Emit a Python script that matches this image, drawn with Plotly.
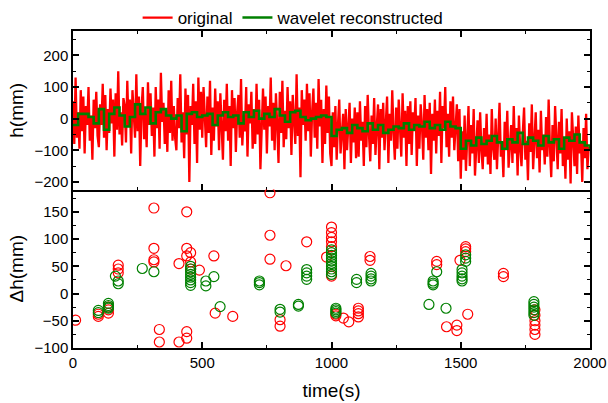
import plotly.graph_objects as go
from plotly.subplots import make_subplots

# ---- top panel: original signal (sampled every 5 s) ----
t_orig_step = 5
h_original = [
 55,-80,130,-60,20,-95,90,-40,70,-110,40,-20,100,-70,10,-130,60,-30,85,-55,
 -90,45,-20,110,-60,75,-100,30,-45,95,-15,60,-120,80,-35,150,-50,20,-85,65,
 40,-75,120,-25,60,-110,90,-5,-60,140,-40,70,-150,30,100,-65,15,-90,115,-20,
 80,-55,35,-120,100,-30,60,-95,145,-10,50,-80,25,-105,90,-45,120,-70,40,-60,
 -100,65,-30,140,-75,20,-125,95,-50,75,-200,40,-20,110,-80,55,-140,130,-35,85,
 -60,100,-10,-90,70,-45,120,-115,35,-70,95,-25,55,-100,80,-5,-130,60,-40,110,
 -70,40,-150,90,-30,65,-105,20,75,-60,125,-85,10,-40,100,-120,45,-15,85,-95,
 30,-80,110,-50,60,-160,15,95,-35,70,-110,40,-25,130,-70,50,-100,80,-20,-140,
 85,-45,120,-90,25,-65,100,-30,55,-115,75,-10,-80,140,-55,35,-185,90,-20,60,
 -70,110,-40,80,-120,20,95,-60,50,-95,125,-25,60,-140,30,-80,105,-45,70,-110,
 -150,20,-90,40,-130,-20,60,-110,-60,15,-160,30,-100,-30,50,-140,0,-75,35,-125,
 20,-120,55,-70,-10,-150,40,-90,75,-50,-135,10,-80,65,-115,-25,45,-160,30,-60,
 50,-100,-20,70,-140,15,-70,90,-45,-130,35,-95,60,-10,-120,80,-60,25,-150,40,
 -80,55,-115,20,-40,65,-150,10,-95,45,-20,-130,75,-60,30,-100,50,-175,15,-70,
 60,-110,25,-55,85,-140,40,-30,100,-90,15,-120,55,-60,70,-100,-10,45,-135,30,
 -190,-40,-130,10,-165,-60,40,-150,-20,-110,30,-180,-70,-5,-140,20,-100,-160,-30,-120,
 15,-145,-50,-175,30,-90,-130,0,-160,-40,50,-120,-75,-185,-10,-100,25,-155,-60,-20,
 -140,40,-110,-30,-180,10,-95,-150,-45,35,-130,-70,-195,-15,-105,45,-160,-55,20,-125,
 -35,-170,25,-100,-50,-145,5,-120,60,-90,-185,-20,-135,40,-75,-160,-10,-110,30,-150,
 -60,-190,0,-130,-40,-205,20,-95,-150,-25,-175,10,-110,-70,-200,-30,-125,15,-160,-90,
 -100,
]
t_original = [i * t_orig_step for i in range(len(h_original))]

# ---- wavelet reconstructed (every 20 s) ----
h_wavelet = [
 -20,15,15,5,-15,30,-35,15,35,10,-25,5,45,15,35,-15,20,30,10,0,10,-40,15,20,5,
 10,15,-20,10,20,5,10,-15,20,5,25,0,15,5,30,10,-10,20,25,5,-5,0,5,10,5,
 -55,-35,-30,-45,-20,-30,-40,-15,-35,-20,-45,-35,-25,-30,-15,-35,-20,-25,-10,-30,-20,-35,-10,-25,-30,
 -95,-70,-85,-60,-80,-70,-55,-75,-95,-65,-75,-45,-80,-60,-70,-85,-55,-75,-65,-95,-60,-70,-50,-75,-85,-95,
]
t_wavelet = [i * 20 for i in range(len(h_wavelet))]

# ---- bottom panel: delta h ----
dh_orig_t = [10,98,98,137,137,137,175,175,175,313,313,313,313,334,334,410,410,440,440,440,440,440,
             455,455,455,489,545,550,618,762,762,762,801,801,824,904,981,1000,1000,1000,1000,1000,1000,
             1017,1017,1046,1067,1104,1104,1104,1104,1149,1149,1407,1407,1445,1485,1485,1497,1519,1519,
             1519,1527,1665,1665,1787,1787,1787,1787,1787,1787]
dh_orig_v = [-49,-42,-38,-36,-30,-25,52,45,38,157,83,62,58,-66,-89,55,-89,150,83,69,-70,-82,
             75,58,45,43,69,-36,-42,185,107,63,-48,-60,51,95,67,122,112,103,95,86,32,
             -38,-41,-45,-52,-27,-32,-37,-43,68,61,59,53,-61,-58,-68,61,86,
             82,77,-38,37,31,-30,-40,-50,-58,-66,-75]

dh_wav_t = [98,98,137,137,137,137,164,175,175,268,313,455,455,455,455,455,455,455,455,514,514,545,569,
            721,721,721,801,801,872,872,904,904,904,904,1000,1000,1000,1000,1000,1000,1000,1000,1000,1000,
            1017,1017,1017,1017,1097,1097,1153,1153,1153,1153,1377,1393,1393,1393,1407,1443,
            1505,1505,1505,1505,1505,1519,1519,1519,1783,1783,1783,1783,1783,1783]
dh_wav_v = [-31,-35,-18,-22,-25,-27,32,23,18,46,40,50,45,40,35,30,25,20,15,23,14,31,-24,
            23,20,16,-29,-34,-20,-23,44,38,32,26,80,75,70,65,60,55,50,45,40,35,
            -27,-30,-33,-36,26,20,37,32,27,23,-20,23,19,16,40,-27,
            44,38,32,27,23,71,65,59,-15,-20,-25,-30,-35,-40]

RED = "#FF0000"
GREEN = "#008000"
FONT = "Liberation Sans, Arial, sans-serif"

fig = make_subplots(rows=2, cols=1, shared_xaxes=True, vertical_spacing=0,
                    row_heights=[0.5, 0.5])

fig.add_trace(go.Scatter(x=t_original, y=h_original, mode="lines", name="original",
                         line=dict(color=RED, width=2.3)), row=1, col=1)
fig.add_trace(go.Scatter(x=t_wavelet, y=h_wavelet, mode="lines", name="wavelet reconstructed",
                         line=dict(color=GREEN, width=2.6, shape="hv")), row=1, col=1)

fig.add_trace(go.Scatter(x=dh_orig_t, y=dh_orig_v, mode="markers", showlegend=False,
                         marker=dict(symbol="circle-open", size=10, color=RED,
                                     line=dict(width=1.2, color=RED))), row=2, col=1)
fig.add_trace(go.Scatter(x=dh_wav_t, y=dh_wav_v, mode="markers", showlegend=False,
                         marker=dict(symbol="circle-open", size=10, color=GREEN,
                                     line=dict(width=1.2, color=GREEN))), row=2, col=1)

axis_common = dict(showline=True, linecolor="black", linewidth=1.5, mirror="ticks",
                   ticks="inside", ticklen=6, tickwidth=1.5, tickcolor="black",
                   showgrid=False, zeroline=False, automargin=False,
                   tickfont=dict(family=FONT, size=15, color="black"))

fig.update_xaxes(**axis_common, range=[0, 2000], dtick=500,
                 minor=dict(ticks="inside", ticklen=3, tickwidth=1, tickcolor="black", dtick=250))
fig.update_xaxes(showticklabels=False, row=1, col=1)
fig.update_xaxes(mirror=False,
                 title=dict(text="time(s)", font=dict(family=FONT, size=19, color="black"), standoff=14),
                 row=2, col=1)

fig.update_yaxes(**axis_common)
fig.update_yaxes(range=[-224, 277], tickvals=[-200, -100, 0, 100, 200],
                 minor=dict(ticks="inside", ticklen=3, tickwidth=1, tickcolor="black", dtick=50, tick0=0),
                 title=dict(text="h(mm)", font=dict(family=FONT, size=19, color="black"), standoff=6),
                 row=1, col=1)
fig.update_yaxes(range=[-100, 191], tickvals=[-100, -50, 0, 50, 100, 150],
                 minor=dict(ticks="inside", ticklen=3, tickwidth=1, tickcolor="black", dtick=25, tick0=0),
                 title=dict(text="Δh(mm)", font=dict(family=FONT, size=19, color="black"), standoff=6),
                 row=2, col=1)

fig.update_layout(
    width=608, height=403,
    margin=dict(l=73, r=18, t=31, b=55, autoexpand=False),
    paper_bgcolor="white", plot_bgcolor="white",
    font=dict(family=FONT, size=15, color="black"),
    legend=dict(orientation="h", x=0.125, xanchor="left", xref="paper",
                y=(403 - 18) / 403, yanchor="middle", yref="container",
                font=dict(family=FONT, size=17, color="black"),
                bgcolor="rgba(0,0,0,0)", itemwidth=30, tracegroupgap=0),
)

fig.write_html("out.html")
